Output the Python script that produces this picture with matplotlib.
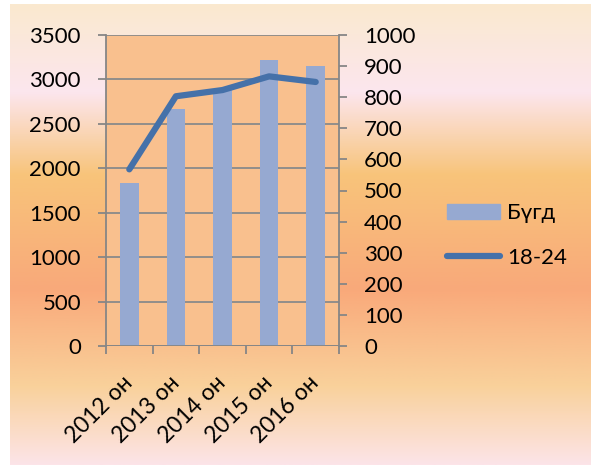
import numpy as np
import matplotlib.pyplot as plt
from matplotlib.colors import LinearSegmentedColormap
from matplotlib.patches import Patch
from matplotlib.lines import Line2D

years = ['2012 он', '2013 он', '2014 он', '2015 он', '2016 он']
total = [1830, 2670, 2890, 3215, 3150]
age_18_24 = [568, 803, 823, 867, 849]

plt.rcParams['font.family'] = ['Lato', 'DejaVu Sans']

fig = plt.figure(figsize=(5.91, 4.68), dpi=100)

# gradient background
bg = fig.add_axes([10 / 591, 3 / 468, 1 - 10 / 591, 461 / 468], zorder=-10)
stops = [(0.0, '#FAE9CF'), (0.19, '#FCE6EE'), (0.37, '#F8C47A'),
         (0.62, '#F9A97A'), (0.83, '#F9D19B'), (1.0, '#FCE4E8')]
cmap = LinearSegmentedColormap.from_list('bg', stops)
bg.imshow(np.linspace(0, 1, 256).reshape(-1, 1), aspect='auto', cmap=cmap,
          extent=[0, 1, 0, 1])
bg.axis('off')

ax = fig.add_axes([106 / 591, 1 - 346 / 468, 233 / 591, 311 / 468])
ax.set_facecolor('#F9C08E')
x = np.arange(len(years))
ax.bar(x, total, width=0.4, color='#96A9D1', zorder=2)
ax.set_xlim(-0.5, len(years) - 0.5)
ax.set_ylim(0, 3500)
ax.set_yticks(range(0, 3501, 500))
ax.grid(axis='y', color='#8A8A8A', linewidth=1.3, zorder=1)
ax.set_axisbelow(True)

ax2 = ax.twinx()
ax2.plot(x, age_18_24, color='#4571A9', linewidth=4.5, solid_capstyle='round',
         solid_joinstyle='round', zorder=3)
ax2.set_ylim(0, 1000)
ax2.set_yticks(range(0, 1001, 100))

gray = '#868686'
for a in (ax, ax2):
    for s in a.spines.values():
        s.set_visible(False)
ax.spines['left'].set_visible(True)
ax.spines['left'].set_color(gray)
ax.spines['left'].set_linewidth(1.3)
ax2.spines['right'].set_visible(True)
ax2.spines['right'].set_color(gray)
ax2.spines['right'].set_linewidth(1.3)

ax.set_xticks(np.arange(-0.5, len(years), 1))
ax.set_xticklabels([])
ax.set_xticks(x, minor=True)
ax.set_xticklabels(years, minor=True, rotation=45, ha='right', va='center',
                   rotation_mode='anchor', fontsize=16.5)
ax.tick_params(axis='x', which='major', length=6, width=1.3, color=gray)
ax.tick_params(axis='x', which='minor', length=0, pad=24)
ax.tick_params(axis='y', length=6, width=1.3, color=gray, labelsize=16, pad=12)
ax2.tick_params(axis='y', length=6, width=1.3, color=gray, labelsize=16, pad=12)
ax.axhline(0, color=gray, linewidth=1.3, zorder=4)

handles = [Patch(color='#96A9D1'),
           Line2D([0], [0], color='#4571A9', linewidth=4.5, solid_capstyle='round')]
fig.legend(handles, ['Бүгд', '18-24'], loc='center left',
           bbox_to_anchor=(447 / 591, 0.497), frameon=False, fontsize=16,
           borderpad=0, borderaxespad=0, handlelength=2.4, handleheight=0.7,
           handletextpad=0.3, labelspacing=1.1)

fig.savefig('out.png', dpi=100)
